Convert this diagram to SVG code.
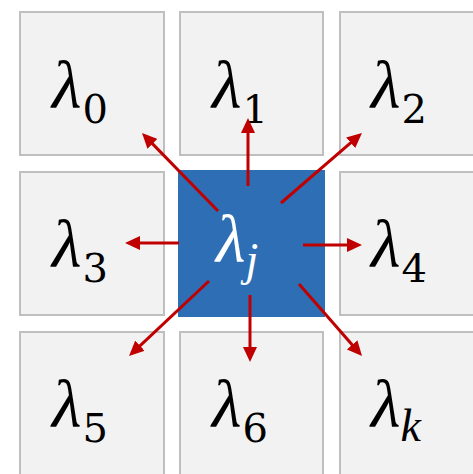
<svg xmlns="http://www.w3.org/2000/svg" width="473" height="474" viewBox="0 0 473 474">
<defs>
<style>
.cell{fill:#f2f2f2;stroke:#bfbfbf;stroke-width:2}
.center{fill:#2e6eb5}
.lbl{font-family:"Liberation Serif",serif;font-size:68px;fill:#000}
.lam{font-style:italic}
.sub{font-family:"DejaVu Serif",serif;font-size:40px}
.isub{font-size:46px;font-style:italic}
.w{fill:#fff}
.arr{stroke:#c00000;stroke-width:3;fill:none;marker-end:url(#ah)}
</style>
<marker id="ah" viewBox="0 0 15 14" refX="3" refY="7" markerWidth="15" markerHeight="14" markerUnits="userSpaceOnUse" orient="auto">
<path d="M0,0 L15,7 L0,14 Z" fill="#c00000"/>
</marker>
</defs>
<rect width="473" height="474" fill="#fff"/>
<g id="n0"><rect class="cell" x="20" y="12" width="144" height="143"/><text class="lbl" x="52" y="108"><tspan class="lam">λ</tspan><tspan class="sub" dx="1" dy="15">0</tspan></text></g>
<g id="n1"><rect class="cell" x="180" y="12" width="143" height="143"/><text class="lbl" x="212" y="108"><tspan class="lam">λ</tspan><tspan class="sub" dx="1" dy="15">1</tspan></text></g>
<g id="n2"><rect class="cell" x="340" y="12" width="143" height="143"/><text class="lbl" x="371" y="108"><tspan class="lam">λ</tspan><tspan class="sub" dx="1" dy="15">2</tspan></text></g>
<g id="n3"><rect class="cell" x="20" y="172" width="144" height="143"/><text class="lbl" x="52" y="267"><tspan class="lam">λ</tspan><tspan class="sub" dx="1" dy="15">3</tspan></text></g>
<g id="nj"><rect class="center" x="178" y="170" width="147" height="147"/><text class="lbl w" x="216" y="262"><tspan class="lam">λ</tspan><tspan class="isub" dy="13">j</tspan></text></g>
<g id="n4"><rect class="cell" x="340" y="172" width="143" height="143"/><text class="lbl" x="371" y="267"><tspan class="lam">λ</tspan><tspan class="sub" dx="1" dy="15">4</tspan></text></g>
<g id="n5"><rect class="cell" x="20" y="332" width="144" height="143"/><text class="lbl" x="52" y="427"><tspan class="lam">λ</tspan><tspan class="sub" dx="1" dy="15">5</tspan></text></g>
<g id="n6"><rect class="cell" x="180" y="332" width="143" height="143"/><text class="lbl" x="212" y="427"><tspan class="lam">λ</tspan><tspan class="sub" dx="1" dy="15">6</tspan></text></g>
<g id="nk"><rect class="cell" x="340" y="332" width="143" height="143"/><text class="lbl" x="371" y="427"><tspan class="lam">λ</tspan><tspan class="isub" dy="14">k</tspan></text></g>
<g id="connectors">
<line class="arr" x1="218" y1="211" x2="150.4" y2="141.6"/>
<line class="arr" x1="248" y1="186" x2="248" y2="130"/>
<line class="arr" x1="281" y1="203" x2="352.9" y2="140.8"/>
<line class="arr" x1="179" y1="243" x2="137" y2="243"/>
<line class="arr" x1="303" y1="245" x2="350" y2="245"/>
<line class="arr" x1="209" y1="281" x2="137.8" y2="347.8"/>
<line class="arr" x1="250" y1="295" x2="250" y2="350"/>
<line class="arr" x1="299" y1="284" x2="354.1" y2="347"/>
</g>
</svg>
